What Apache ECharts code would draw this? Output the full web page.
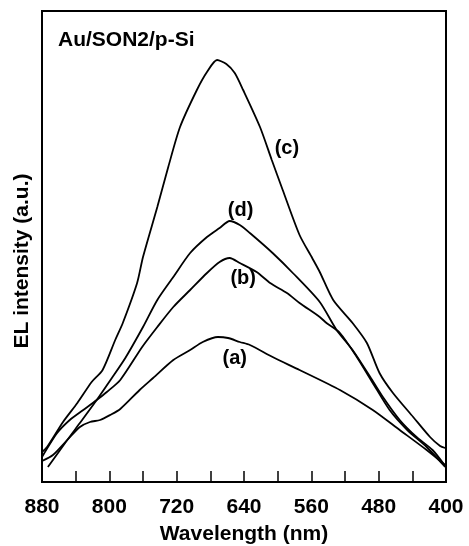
<!DOCTYPE html>
<html lang="en">
<head>
<meta charset="UTF-8">
<script src="https://cdn.jsdelivr.net/npm/echarts@6/dist/echarts.min.js"></script>
<style>
  html, body { margin: 0; padding: 0; background: #fff; }
  #chart { width: 469px; height: 546px; }
</style>
</head>
<body>
<div id="chart"></div>
<script>
// EL spectra, wavelength (nm) vs intensity (a.u.)
var curveA = [[880,21],[867,27],[850,42],[835,55],[823,60],[811,62],[799,67],[787,73],[764,92],[748,104],
  [724,122],[704,132],[689,140],[671,145],[659,144],[645,140],[633,137],[606,125],[574,112],[526,92],
  [487,72],[455,52],[423,32],[401,17]];
var curveB = [[880,25],[862,49],[847,62],[831,72],[815,82],[803,90],[787,102],[761,135],[743,155],[724,175],
  [704,192],[684,209],[669,220],[657,224],[645,219],[625,210],[609,199],[589,189],[574,179],[550,165],
  [542,159],[526,149],[506,125],[487,99],[467,72],[446,52],[423,35],[401,15]];
var curveC = [[880,30],[874,35],[855,60],[838,79],[821,100],[808,112],[793,142],[784,159],[767,199],[760,225],
  [743,275],[730,315],[716,355],[696,392],[684,410],[672,422],[661,418],[651,409],[641,392],[621,355],
  [607,322],[594,292],[574,247],[559,224],[550,210],[534,182],[511,159],[494,139],[479,109],[463,89],
  [439,65],[419,45],[407,36],[401,34]];
var curveD = [[873,15],[850,42],[835,59],[815,82],[797,104],[781,124],[760,155],[743,182],[724,205],[704,229],
  [684,245],[669,254],[657,261],[645,257],[633,249],[606,229],[582,209],[550,180],[530,152],[511,132],
  [490,105],[475,85],[455,62],[435,45],[416,32],[401,16]];

var curveNames = ['(a)', '(b)', '(c)', '(d)'];
var curveData = [curveA, curveB, curveC, curveD];
// where each tag sits, in data coordinates
var tagPos = [[651,124],[641,204],[589,334],[644,272]];

var font = 'Liberation Sans, Arial, sans-serif';

var chart = echarts.init(document.getElementById('chart'));

var series = curveData.map(function (d, i) {
  return {
    name: curveNames[i],
    type: 'line',
    data: d,
    showSymbol: false,
    smooth: 0.25,
    lineStyle: { color: '#000', width: 1.8 },
    silent: true,
    markPoint: {
      symbol: 'circle',
      symbolSize: 0,
      data: [{ coord: tagPos[i] }],
      label: {
        show: true,
        position: 'inside',
        formatter: curveNames[i],
        color: '#000',
        fontFamily: font,
        fontWeight: 'bold',
        fontSize: 20
      }
    }
  };
});

chart.setOption({
  animation: false,
  backgroundColor: '#fff',
  grid: {
    left: 42, right: 23, top: 11, bottom: 64,
    outerBoundsMode: 'none',
    show: true, borderColor: '#000', borderWidth: 2
  },
  xAxis: {
    type: 'value',
    inverse: true,
    min: 400, max: 880, interval: 80,
    name: 'Wavelength (nm)',
    nameLocation: 'middle',
    nameGap: 42,
    nameTextStyle: { color: '#000', fontFamily: font, fontWeight: 'bold', fontSize: 21 },
    axisLine: { lineStyle: { color: '#000', width: 2 } },
    axisTick: { inside: true, length: 11, lineStyle: { color: '#000', width: 1.5 } },
    minorTick: { show: true, splitNumber: 2, length: 11, lineStyle: { color: '#000', width: 1.5 } },
    axisLabel: { color: '#000', fontFamily: font, fontWeight: 'bold', fontSize: 21, margin: 15 },
    splitLine: { show: false }
  },
  yAxis: {
    type: 'value',
    min: 0, max: 471,
    axisLine: { show: true, lineStyle: { color: '#000', width: 2 } },
    axisTick: { show: false },
    axisLabel: { show: false },
    splitLine: { show: false }
  },
  graphic: [
    {
      type: 'text', left: 58, top: 30,
      style: { text: 'Au/SON2/p-Si', fill: '#000', font: 'bold 21px ' + font }
    },
    {
      type: 'text', x: 22, y: 261, rotation: Math.PI / 2,
      style: {
        text: 'EL intensity (a.u.)', fill: '#000', font: 'bold 21px ' + font,
        align: 'center', verticalAlign: 'middle'
      }
    }
  ],
  series: series
});
</script>
</body>
</html>
